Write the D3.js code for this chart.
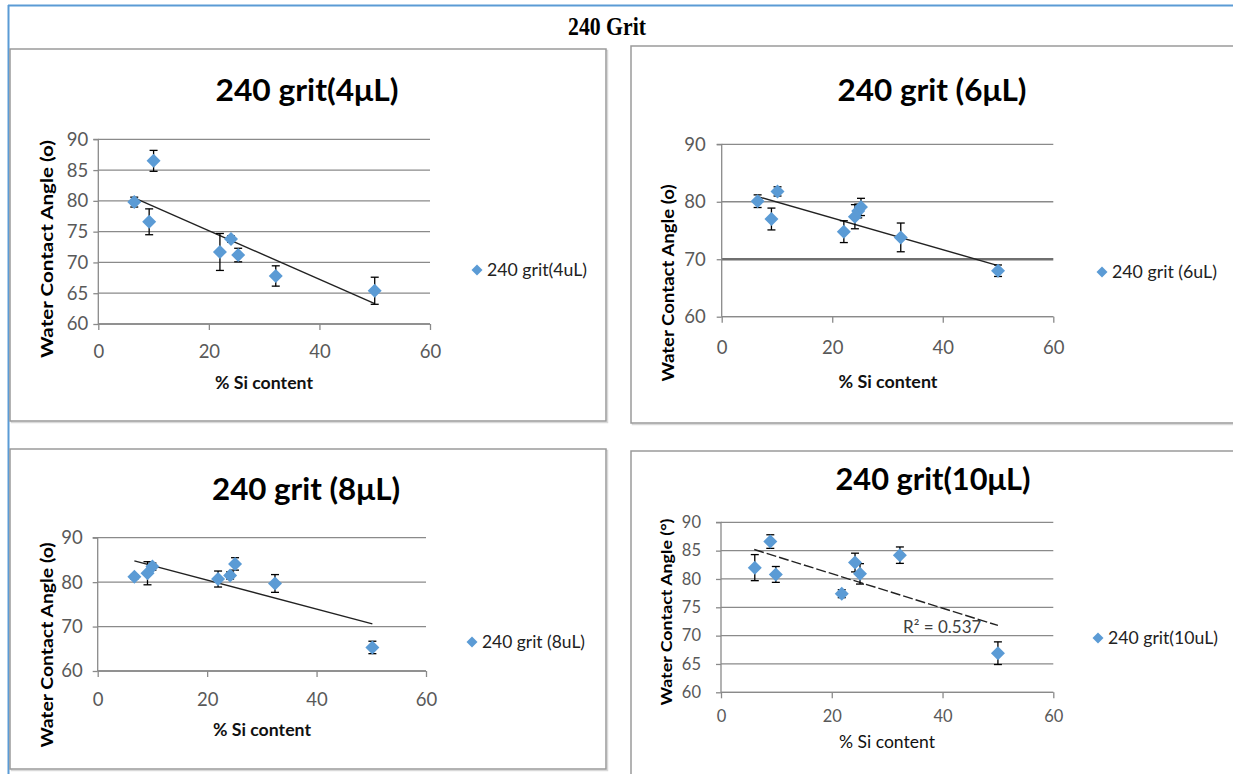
<!DOCTYPE html>
<html><head><meta charset="utf-8">
<script src="https://cdn.jsdelivr.net/npm/d3@7"></script>
<style>
html,body{margin:0;padding:0;background:#fff;}
svg{display:block;}
</style></head>
<body>
<svg id="c" width="1233" height="774"></svg>
<script>
// ---------- DATA ----------
const pageTitle = "240 Grit";
const xTicks = [0, 20, 40, 60];
const yTicks4 = [60, 65, 70, 75, 80, 85, 90];
const yTicks6 = [60, 70, 80, 90];
const yTicks8 = [60, 70, 80, 90];
const yTicks10 = [60, 65, 70, 75, 80, 85, 90];

const titles = ["240 grit(4\u03bcL)", "240 grit (6\u03bcL)", "240 grit (8\u03bcL)", "240 grit(10\u03bcL)"];
const legendLabels = ["240 grit(4uL)", "240 grit (6uL)", "240 grit (8uL)", "240 grit(10uL)"];
const yTitles = ["Water Contact  Angle (o)", "Water Contact  Angle (o)", "Water Contact  Angle (o)", "Water Contact Angle (\u00b0)"];
const xTitle = "% Si content";

const si4 = [6.5, 10, 9.2, 22, 24, 25.3, 32.1, 50];
const angle4 = [79.8, 86.5, 76.6, 71.7, 73.8, 71.2, 67.8, 65.4];
const err4 = [0.8, 1.7, 2.1, 3.0, 0.5, 1.1, 1.65, 2.2];
const trend4 = [[6.5, 80.5], [50, 63.3]];

const si6 = [6.5, 9, 10.1, 22.1, 24.1, 24.7, 25.2, 32.4, 50];
const angle6 = [80.1, 77.0, 81.8, 74.8, 77.4, 78.4, 79.1, 73.8, 68.0];
const err6 = [1.1, 1.9, 0.8, 1.9, 2.1, 1.2, 1.5, 2.5, 1.0];
const trend6 = [[6.5, 80.9], [50, 68.9]];

const si8 = [6.7, 9.1, 10, 22, 24.2, 25.1, 32.4, 50.2];
const angle8 = [81.2, 82.0, 83.5, 80.7, 81.5, 84.1, 79.7, 65.3];
const err8 = [0.5, 2.6, 0.8, 1.8, 0.8, 1.4, 2.0, 1.4];
const trend8 = [[6.7, 84.8], [50.2, 70.6]];

const si10 = [6.1, 8.9, 9.9, 21.8, 24.2, 25.1, 32.3, 50];
const angle10 = [82.0, 86.6, 80.8, 77.4, 82.9, 80.9, 84.2, 66.9];
const err10 = [2.3, 1.2, 1.4, 0.7, 1.65, 1.8, 1.45, 2.0];
const trend10 = [[6.0, 85.2], [50, 71.8]];
const r2Label10 = "R\u00b2 = 0.537";

// ---------- LAYOUT ----------
const FONT = "Lato, 'Open Sans', sans-serif";
const BLUE = "#5b9bd5";
const panels = [
  {box:[10,49,596,372], plot:[98.3,430,139.3,324], yt:yTicks4, si:si4, ang:angle4, err:err4, trend:trend4,
   title:titles[0], titleXY:[307,101], titleLen:183, leg:legendLabels[0], legXY:[477,270], legLen:100,
   yTitle:yTitles[0], yTitleXY:[47,249], yTitleLen:218, yFont:17.5, xTitleXY:[264,383], xTitleLen:98,
   yLabGap:10, xLabY:352, tickFont:18.5},
  {box:[631,46,620,377], plot:[721.7,1053.3,144.3,316.7], yt:yTicks6, si:si6, ang:angle6, err:err6, trend:trend6,
   title:titles[1], titleXY:[932,101], titleLen:189, leg:legendLabels[1], legXY:[1102,272], legLen:105,
   yTitle:yTitles[1], yTitleXY:[668,283], yTitleLen:197, yFont:17.5, xTitleXY:[888,382], xTitleLen:99,
   yLabGap:16, xLabY:348, tickFont:18.5, strong70:true},
  {box:[10,449,596,320], plot:[97.7,426,537.7,671], yt:yTicks8, si:si8, ang:angle8, err:err8, trend:trend8,
   title:titles[2], titleXY:[306,500], titleLen:188, leg:legendLabels[2], legXY:[472,642], legLen:103,
   yTitle:yTitles[2], yTitleXY:[47,645], yTitleLen:205, yFont:17.5, xTitleXY:[262,730], xTitleLen:98,
   yLabGap:15, xLabY:700, tickFont:18.5},
  {box:[631,451,620,340], plot:[721,1053.3,522.3,692.3], yt:yTicks10, si:si10, ang:angle10, err:err10, trend:trend10,
   title:titles[3], titleXY:[933,490], titleLen:195, leg:legendLabels[3], legXY:[1098,638], legLen:110,
   yTitle:yTitles[3], yTitleXY:[667,612], yTitleLen:187, yFont:15, xTitleXY:[887,742], xTitleLen:96,
   yLabGap:20, xLabY:716, tickFont:16.5, dashed:true, r2:r2Label10, r2XY:[903,633], xTitleWeight:400}
];

const svg = d3.select("#c");

// outer frame
svg.append("line").attr("x1",8).attr("x2",1233).attr("y1",5.5).attr("y2",5.5).attr("stroke",BLUE).attr("stroke-width",2);
svg.append("line").attr("x1",8.5).attr("x2",8.5).attr("y1",5).attr("y2",774).attr("stroke",BLUE).attr("stroke-width",2);

svg.append("text").text(pageTitle).attr("x",0).attr("y",0).attr("text-anchor","middle")
  .attr("font-family","'Liberation Serif', 'Times New Roman', serif").attr("font-weight","bold")
  .attr("font-size",21).attr("fill","#000")
  .attr("textLength",78).attr("lengthAdjust","spacingAndGlyphs")
  .attr("transform","translate(607,35) scale(1,1.2)");

panels.forEach((p,i)=>{
  const g = svg.append("g");
  const [bx,by,bw,bh] = p.box;
  // panel border with soft shadow
  g.append("rect").attr("x",bx+1.5).attr("y",by+1.5).attr("width",bw).attr("height",bh)
    .attr("fill","none").attr("stroke","#d9d9d9").attr("stroke-width",1.5);
  g.append("rect").attr("x",bx).attr("y",by).attr("width",bw).attr("height",bh)
    .attr("fill","#fff").attr("stroke","#9a9a9a").attr("stroke-width",1.5);

  const [x0,x1,yt,yb] = p.plot;
  const x = d3.scaleLinear().domain([0,60]).range([x0,x1]);
  const y = d3.scaleLinear().domain([60,90]).range([yb,yt]);

  // gridlines
  g.selectAll(".grid").data(p.yt).join("line")
    .attr("x1",x0).attr("x2",x1).attr("y1",d=>y(d)).attr("y2",d=>y(d))
    .attr("stroke",d=> (p.strong70 && d===70) ? "#6f6f6f" : "#8a8a8a")
    .attr("stroke-width",d=> (p.strong70 && d===70) ? 2.6 : 1.3);

  // y axis
  const yAxis = d3.axisLeft(y).tickValues(p.yt).tickSize(5).tickPadding(p.yLabGap-5).tickFormat(d3.format("d"));
  const ya = g.append("g").attr("transform",`translate(${x0},0)`).call(yAxis);
  ya.select(".domain").attr("stroke","#8a8a8a").attr("stroke-width",1.3).attr("d",`M-5,${yt}H0V${yb}`);
  ya.selectAll(".tick line").attr("stroke","#8a8a8a").attr("stroke-width",1.3);
  ya.selectAll(".tick text").attr("font-family",FONT).attr("font-size",p.tickFont).attr("fill","#595959");

  // x axis
  const xAxis = d3.axisBottom(x).tickValues(xTicks).tickSize(6).tickPadding(0).tickFormat(d3.format("d"));
  const xa = g.append("g").attr("transform",`translate(0,${yb})`).call(xAxis);
  xa.select(".domain").attr("stroke","#8a8a8a").attr("stroke-width",1.3).attr("d",`M${x0},0H${x1}`);
  xa.selectAll(".tick line").attr("stroke","#8a8a8a").attr("stroke-width",1.3);
  xa.selectAll(".tick text").attr("font-family",FONT).attr("font-size",p.tickFont).attr("fill","#595959")
    .attr("y",p.xLabY-yb).attr("dy","0.35em");

  // trendline
  const line = d3.line().x(d=>x(d[0])).y(d=>y(d[1]));
  g.append("path").attr("d",line(p.trend)).attr("fill","none").attr("stroke","#222")
    .attr("stroke-width",1.4).attr("stroke-dasharray",p.dashed?"10,3":null);

  const pts = p.si.map((s,k)=>({s, a:p.ang[k], e:p.err[k]}));
  // error bars
  const eb = g.selectAll(".eb").data(pts).join("g").attr("stroke","#000").attr("stroke-width",1.3);
  eb.append("line").attr("x1",d=>x(d.s)).attr("x2",d=>x(d.s)).attr("y1",d=>y(d.a+d.e)).attr("y2",d=>y(d.a-d.e));
  eb.append("line").attr("x1",d=>x(d.s)-4).attr("x2",d=>x(d.s)+4).attr("y1",d=>y(d.a+d.e)).attr("y2",d=>y(d.a+d.e));
  eb.append("line").attr("x1",d=>x(d.s)-4).attr("x2",d=>x(d.s)+4).attr("y1",d=>y(d.a-d.e)).attr("y2",d=>y(d.a-d.e));

  // markers
  const r = 7;
  const diamond = `M0,${-r}L${r},0L0,${r}L${-r},0Z`;
  g.selectAll(".pt").data(pts).join("path").attr("d",diamond)
    .attr("transform",d=>`translate(${x(d.s)},${y(d.a)})`).attr("fill",BLUE);

  if (p.r2) {
    g.append("text").text(p.r2).attr("x",p.r2XY[0]).attr("y",p.r2XY[1])
      .attr("font-family",FONT).attr("font-size",17).attr("fill","#404040");
  }

  // title
  g.append("text").text(p.title).attr("x",p.titleXY[0]).attr("y",p.titleXY[1]).attr("text-anchor","middle")
    .attr("font-family",FONT).attr("font-weight","bold").attr("font-size",31).attr("fill","#000")
    .attr("textLength",p.titleLen).attr("lengthAdjust","spacingAndGlyphs");

  // y title
  g.append("text").text(p.yTitle)
    .attr("transform",`translate(${p.yTitleXY[0]},${p.yTitleXY[1]}) rotate(-90)`)
    .attr("text-anchor","middle").attr("dy","0.35em")
    .attr("font-family",FONT).attr("font-weight","bold").attr("font-size",p.yFont).attr("fill","#000")
    .attr("textLength",p.yTitleLen).attr("lengthAdjust","spacingAndGlyphs");

  // x title
  g.append("text").text(xTitle).attr("x",p.xTitleXY[0]).attr("y",p.xTitleXY[1]).attr("dy","0.35em")
    .attr("text-anchor","middle").attr("font-family",FONT).attr("font-weight",p.xTitleWeight||700)
    .attr("font-size",16.5).attr("fill","#111")
    .attr("textLength",p.xTitleLen).attr("lengthAdjust","spacingAndGlyphs");

  // legend
  g.append("path").attr("d",`M0,-5.5L5.5,0L0,5.5L-5.5,0Z`).attr("fill",BLUE)
    .attr("transform",`translate(${p.legXY[0]},${p.legXY[1]})`);
  g.append("text").text(p.leg).attr("x",p.legXY[0]+10).attr("y",p.legXY[1]).attr("dy","0.35em")
    .attr("font-family",FONT).attr("font-size",16.5).attr("fill","#222")
    .attr("textLength",p.legLen).attr("lengthAdjust","spacingAndGlyphs");
});
</script>
</body></html>
